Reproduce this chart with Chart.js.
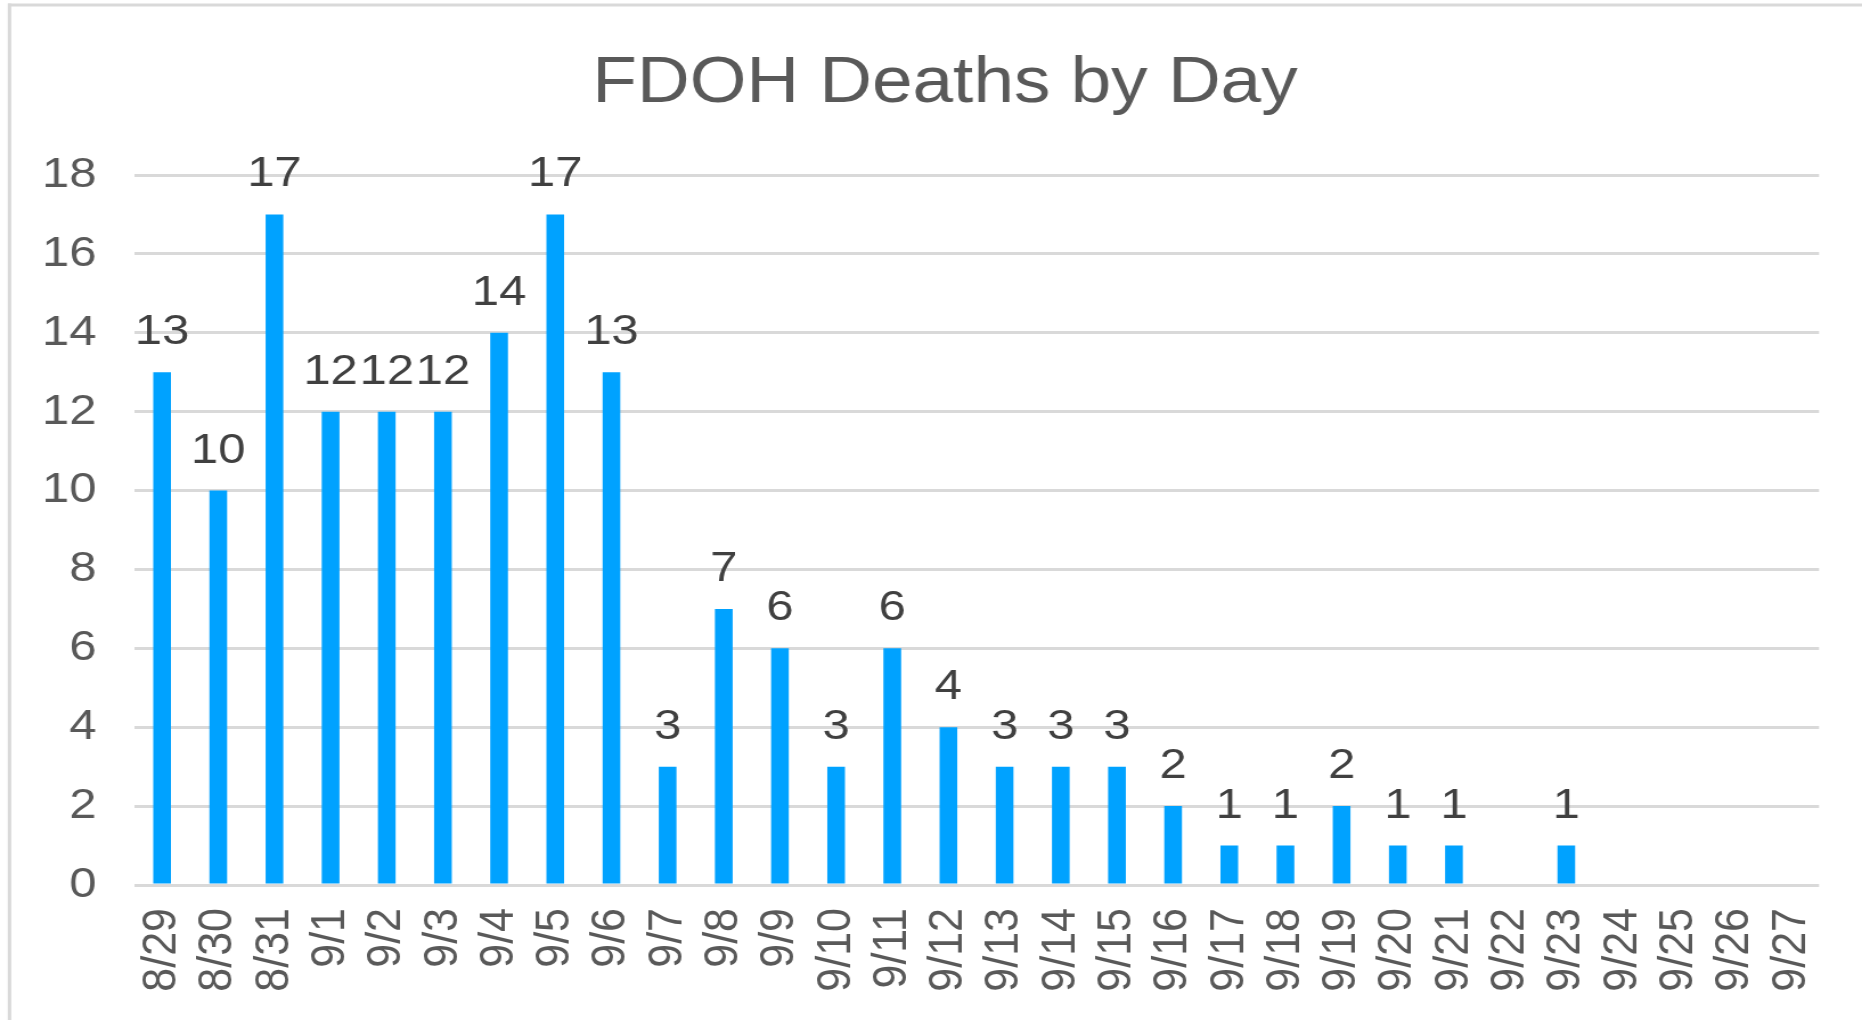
<!DOCTYPE html>
<html>
<head>
<meta charset="utf-8">
<title>FDOH Deaths by Day</title>
<script src="https://cdn.jsdelivr.net/npm/chart.js@4.4.1/dist/chart.umd.min.js"></script>
<style>
  html, body { margin: 0; padding: 0; background: #fff; overflow: hidden; }
  #chart { display: block; }
</style>
</head>
<body>
<!-- the original picture is stretched sideways, so the canvas is drawn narrow and widened by CSS -->
<canvas id="chart" width="1634" height="1020" style="width:1862px;height:1020px"></canvas>
<script>
const days = ['8/29', '8/30', '8/31', '9/1', '9/2', '9/3', '9/4', '9/5', '9/6', '9/7',
  '9/8', '9/9', '9/10', '9/11', '9/12', '9/13', '9/14', '9/15', '9/16', '9/17',
  '9/18', '9/19', '9/20', '9/21', '9/22', '9/23', '9/24', '9/25', '9/26', '9/27'];
const deaths = [13, 10, 17, 12, 12, 12, 14, 17, 13, 3,
  7, 6, 3, 6, 4, 3, 3, 3, 2, 1,
  1, 2, 1, 1, null, 1, null, null, null, null];
const yMin = 0;
const yMax = 18;
const yStep = 2;

const FONT = '"Liberation Sans", Arial, sans-serif';
const STRETCH = 1862 / 1634;

// light grey frame (only top and left edges are visible in the picture)
const framePlugin = {
    id: 'frame',
    beforeDraw(chart) {
        const ctx = chart.ctx;
        ctx.save();
        ctx.fillStyle = '#ffffff';
        ctx.fillRect(0, 0, chart.width, chart.height);
        ctx.strokeStyle = '#d9d9d9';
        ctx.lineWidth = 3.5 / STRETCH;
        ctx.beginPath();
        ctx.moveTo(9.5 / STRETCH, 3.5);
        ctx.lineTo(9.5 / STRETCH, chart.height);
        ctx.stroke();
        ctx.lineWidth = 3;
        ctx.beginPath();
        ctx.moveTo(8 / STRETCH, 5);
        ctx.lineTo(chart.width, 5);
        ctx.stroke();
        ctx.restore();
    }
};

// the title sits a bit right of the canvas centre in the original
const titleShift = {
    id: 'titleShift',
    afterLayout(chart) {
        const t = chart.titleBlock;
        if (!t) return;
        const d = 945 / STRETCH - (t.left + t.right) / 2;
        t.left += d;
        t.right += d;
    }
};

// value labels above the bars
const valueLabels = {
    id: 'valueLabels',
    afterDatasetsDraw(chart) {
        const ctx = chart.ctx;
        const meta = chart.getDatasetMeta(0);
        ctx.save();
        ctx.font = '43px ' + FONT;
        ctx.fillStyle = '#404040';
        ctx.textAlign = 'center';
        ctx.textBaseline = 'alphabetic';
        meta.data.forEach((bar, i) => {
            const v = deaths[i];
            if (v === null || v === undefined) return;
            ctx.fillText(String(v), bar.x, bar.y - 28);
        });
        ctx.restore();
    }
};

const ctx = document.getElementById('chart').getContext('2d');
new Chart(ctx, {
    type: 'bar',
    data: {
        labels: days,
        datasets: [{
            label: 'Deaths',
            data: deaths,
            backgroundColor: '#00a2ff',
            borderWidth: 0,
            categoryPercentage: 1,
            barPercentage: 0.315
        }]
    },
    options: {
        responsive: false,
        devicePixelRatio: 1,
        animation: false,
        layout: { padding: { left: 20, right: 37.7, top: 8, bottom: 0 } },
        plugins: {
            legend: { display: false },
            tooltip: { enabled: false },
            title: {
                display: true,
                text: 'FDOH Deaths by Day',
                color: '#595959',
                font: { family: FONT, size: 64, weight: 'normal' },
                padding: { top: 38, bottom: 52.2 }
            }
        },
        scales: {
            x: {
                grid: { display: false, drawTicks: false },
                border: { display: false },
                ticks: {
                    color: '#595959',
                    font: { family: FONT, size: 43 },
                    padding: 23,
                    minRotation: 90,
                    maxRotation: 90,
                    autoSkip: false
                },
                afterFit(scale) {
                    scale.height = 135;
                    scale.paddingLeft = 0;
                    scale.paddingRight = 0;
                }
            },
            y: {
                min: yMin,
                max: yMax,
                grid: { color: '#d9d9d9', lineWidth: 3, drawTicks: false },
                border: { display: false },
                ticks: {
                    stepSize: yStep,
                    color: '#595959',
                    font: { family: FONT, size: 43 },
                    padding: 33
                },
                afterFit(scale) { scale.width = 97.6; }
            }
        }
    },
    plugins: [framePlugin, titleShift, valueLabels]
});
</script>
</body>
</html>
